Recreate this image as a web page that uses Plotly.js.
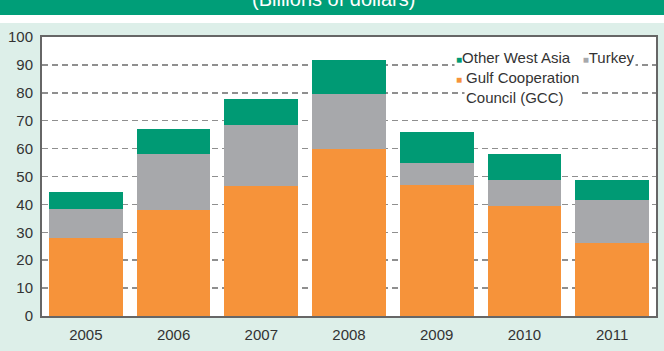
<!DOCTYPE html>
<html>
<head>
<meta charset="utf-8">
<script src="https://cdn.plot.ly/plotly-3.0.1.min.js"></script>
<style>
html,body{margin:0;padding:0;background:#ddefe9;}
#chart{width:664px;height:351px;}
</style>
</head>
<body>
<div id="chart"></div>
<script>
// ---- data ----
const years = ["2005", "2006", "2007", "2008", "2009", "2010", "2011"];
const gcc = [28, 38, 46.6, 60, 46.8, 39.5, 26];
const turkey = [10.3, 20, 22, 19.7, 8.2, 9.1, 15.7];
const otherWestAsia = [6, 9, 9.2, 12, 11, 9.4, 7];
const seriesNames = ["Other West Asia", "Turkey", "Gulf Cooperation<br>Council (GCC)"];
const yTicks = [0, 10, 20, 30, 40, 50, 60, 70, 80, 90, 100];
const titleText = "(Billions of dollars)";

// ---- styling ----
const C_GCC = "#f6933a", C_TUR = "#a7a8ab", C_OWA = "#009a74";
const FONT = "Liberation Sans, Arial, sans-serif";
const W = 664, H = 351, L = 42, R = 8, T = 37, B = 35;
const pw = W - L - R, ph = H - T - B;
const fx = p => (p - L) / pw;
const fy = p => (H - B - p) / ph;

const base = {type: "bar", x: years, showlegend: false, hoverinfo: "skip",
  marker: {line: {width: 0}}};
const traces = [
  Object.assign({}, base, {name: "GCC", y: gcc, marker: {color: C_GCC}}),
  Object.assign({}, base, {name: "Turkey", y: turkey, marker: {color: C_TUR}}),
  Object.assign({}, base, {name: "Other West Asia", y: otherWestAsia, marker: {color: C_OWA}})
];

const sq = (col) => '<span style="color:' + col + ';font-size:10px">■</span>';

const layout = {
  width: W, height: H,
  margin: {l: L, r: R, t: T, b: B, pad: 0},
  paper_bgcolor: "#ddefe9",
  plot_bgcolor: "#ffffff",
  barmode: "stack",
  bargap: 0.16,
  font: {family: FONT, size: 15, color: "#333333"},
  xaxis: {
    type: "category",
    showline: true, linecolor: "#666666", linewidth: 2, mirror: true,
    showgrid: false, ticks: "outside", ticklen: 4, tickcolor: "rgba(0,0,0,0)",
    tickfont: {family: FONT, size: 15, color: "#333333"},
    fixedrange: true
  },
  yaxis: {
    range: [0, 100],
    tickvals: yTicks,
    showline: true, linecolor: "#666666", linewidth: 2, mirror: true,
    showgrid: true, gridcolor: "#8f8f8f", gridwidth: 1.5, griddash: "6px,4px",
    zeroline: false,
    ticks: "outside", ticklen: 4, tickcolor: "rgba(0,0,0,0)",
    tickfont: {family: FONT, size: 15, color: "#333333"},
    fixedrange: true
  },
  shapes: [
    {type: "rect", xref: "paper", yref: "paper", x0: fx(0), x1: fx(W), y0: fy(15), y1: fy(-5),
      fillcolor: "#009e78", line: {width: 0}, layer: "below"},
    {type: "rect", xref: "paper", yref: "paper", x0: fx(0), x1: fx(W), y0: fy(23), y1: fy(15),
      fillcolor: "#ffffff", line: {width: 0}, layer: "below"}
  ],
  annotations: [
    {xref: "paper", yref: "paper", x: fx(333), y: fy(12), xanchor: "center", yanchor: "bottom",
      text: titleText, showarrow: false, font: {family: FONT, size: 20, color: "#ffffff"}},
    {xref: "paper", yref: "paper", x: fx(454), y: fy(57.5), xanchor: "left", yanchor: "middle",
      text: sq(C_OWA) + seriesNames[0] + "   " + sq(C_TUR) + seriesNames[1],
      showarrow: false, bgcolor: "#ffffff", borderpad: 1,
      font: {family: FONT, size: 15, color: "#333333"}},
    {xref: "paper", yref: "paper", x: fx(454), y: fy(79.5), xanchor: "left", yanchor: "middle",
      text: sq(C_GCC), showarrow: false,
      font: {family: FONT, size: 15, color: "#333333"}},
    {xref: "paper", yref: "paper", x: fx(464), y: fy(88), xanchor: "left", yanchor: "middle",
      text: seriesNames[2], align: "left", showarrow: false, bgcolor: "#ffffff", borderpad: 1,
      font: {family: FONT, size: 15, color: "#333333"}}
  ]
};

Plotly.newPlot("chart", traces, layout, {displayModeBar: false, staticPlot: true});
</script>
</body>
</html>
